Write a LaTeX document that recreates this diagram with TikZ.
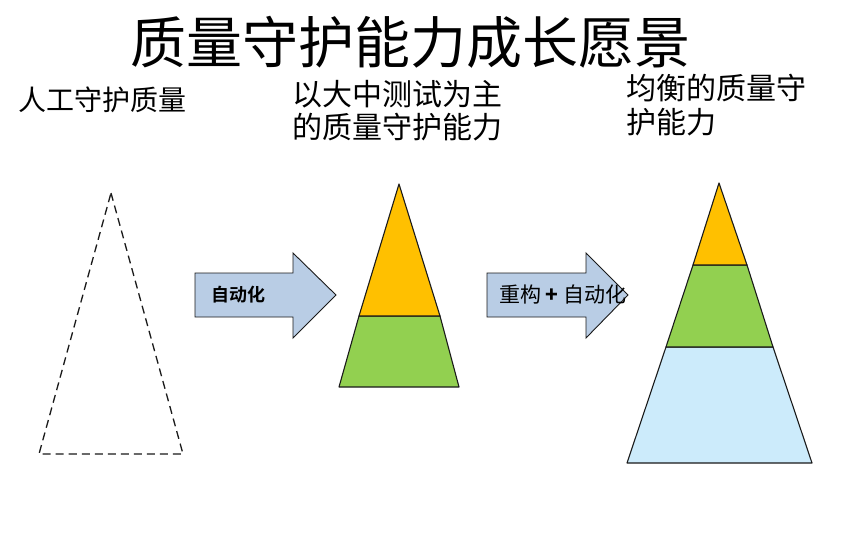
\documentclass[tikz,border=0pt]{standalone}
\usepackage{fontspec}
\newfontfamily\cjk{Noto Sans CJK SC}
\newfontfamily\cjkbold{Noto Sans CJK SC Bold}
\definecolor{orangeY}{HTML}{FFC000}
\definecolor{greenL}{HTML}{92D050}
\definecolor{blueL}{HTML}{CCEBFB}
\definecolor{arrowF}{HTML}{B9CDE5}
\definecolor{edge}{HTML}{1A1A1A}
\begin{document}
\begin{tikzpicture}[x=1pt,y=-1pt,
  layer/.style={draw=edge,line width=1.1pt,line join=round},
  bigarrow/.style={draw=edge,fill=arrowF,line width=0.9pt,line join=miter},
  lbl/.style={inner sep=0pt,anchor=west,align=left,font=\cjk\fontsize{29}{33}\selectfont},
  dashtri/.style={draw=edge,line width=1.3pt,dash pattern=on 8pt off 5pt}]
\useasboundingbox (0,0) rectangle (841,543);
\fill[white] (0,0) rectangle (841,543);
% title
\node[inner sep=0pt,font=\cjk\fontsize{56}{60}\selectfont] (title) at (410,42) {质量守护能力成长愿景};
% labels
\node[lbl,font=\cjk\fontsize{28}{32}\selectfont] (l1) at (18,100) {人工守护质量};
\node[lbl,font=\cjk\fontsize{30}{33}\selectfont] (l2) at (292,111) {以大中测试为主\\的质量守护能力};
\node[lbl,font=\cjk\fontsize{30}{34}\selectfont] (l3) at (626,105) {均衡的质量守\\护能力};
% dashed triangle
\draw[dashtri] (111,193) -- (183,454) -- (39,454) -- cycle;
% arrow 1
\draw[bigarrow] (195,273) -- (293,273) -- (293,253) -- (336,295) -- (293,338) -- (293,317) -- (195,317) -- cycle;
\node[inner sep=0pt,font=\cjkbold\fontsize{18}{20}\selectfont] (a1) at (238,295) {自动化};
% arrow 2
\draw[bigarrow] (487,273) -- (586,273) -- (586,253) -- (628,295) -- (586,338) -- (586,317) -- (487,317) -- cycle;
\node[inner sep=0pt,anchor=west,font=\cjk\fontsize{21}{23}\selectfont] (a2) at (499,295) {重构\ \textbf{+}\ 自动化};
% middle pyramid
\draw[layer,fill=greenL] (359,316) -- (440,316) -- (459,387) -- (339,387) -- cycle;
\draw[layer,fill=orangeY] (399,184) -- (440,316) -- (359,316) -- cycle;
% right pyramid
\draw[layer,fill=blueL] (666,347) -- (773,347) -- (812,463) -- (627,463) -- cycle;
\draw[layer,fill=greenL] (693,265) -- (747,265) -- (773,347) -- (666,347) -- cycle;
\draw[layer,fill=orangeY] (719,183) -- (747,265) -- (693,265) -- cycle;
\end{tikzpicture}
\end{document}
